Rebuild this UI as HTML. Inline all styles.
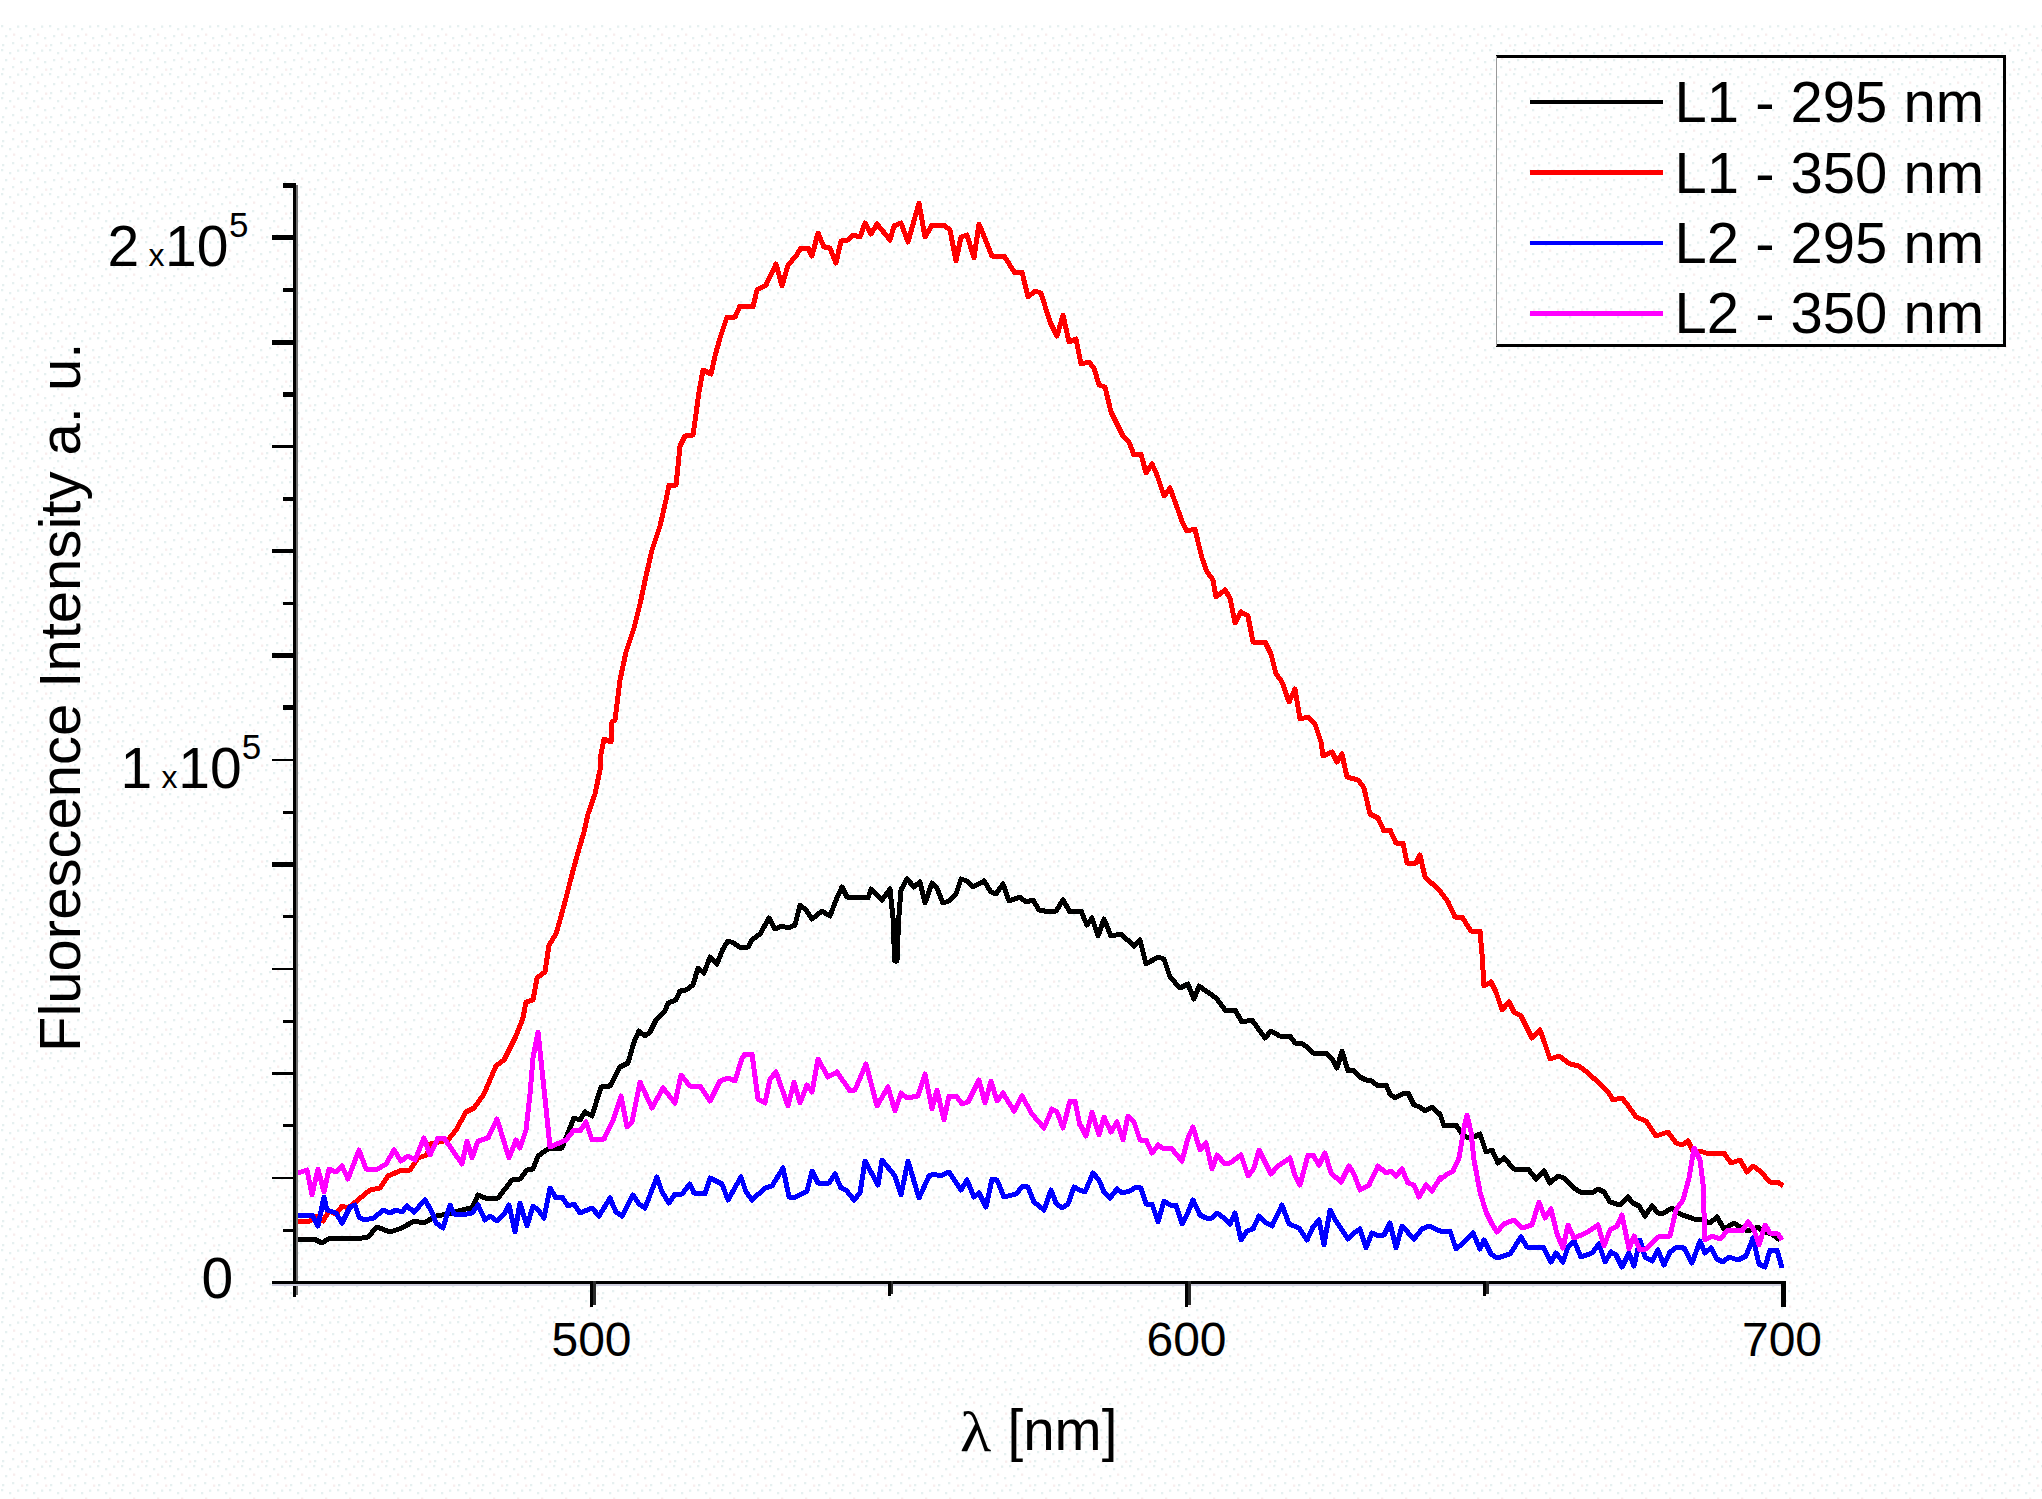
<!DOCTYPE html>
<html><head><meta charset="utf-8"><title>Fluorescence spectra</title>
<style>
html,body{margin:0;padding:0;background:#ffffff;}
body{width:2042px;height:1499px;overflow:hidden;}
svg{display:block;}
text{font-family:"Liberation Sans",sans-serif;fill:#000;}
</style></head><body>
<svg width="2042" height="1499" viewBox="0 0 2042 1499">
<defs>
<pattern id="dots" x="0" y="0" width="24" height="24" patternUnits="userSpaceOnUse">
<g fill="#e6f0f0"><rect x="1" y="1" width="2.3" height="2.3"/><rect x="9" y="4" width="2.3" height="2.3"/><rect x="17" y="1.5" width="2.3" height="2.3"/><rect x="5" y="11" width="2.3" height="2.3"/><rect x="20" y="13" width="2.3" height="2.3"/><rect x="12" y="18" width="2.3" height="2.3"/><rect x="2" y="20" width="2.3" height="2.3"/></g>
<g fill="#f8eded"><rect x="13" y="9.5" width="2.3" height="2.3"/><rect x="21" y="20.5" width="2.3" height="2.3"/></g>
</pattern>
</defs>
<rect x="0" y="0" width="2042" height="1499" fill="#ffffff"/>
<rect x="0" y="25" width="2042" height="1474" fill="url(#dots)"/>
<!-- curves -->
<g>
<path d="M295,1239 L314,1239 L322,1243 L330,1238 L356,1239 L368,1237 L377,1227 L390,1232 L402,1228 L414,1221 L424,1223 L436,1216 L448,1214 L458,1211 L466,1209 L472,1208 L478,1195 L485,1198 L498,1198 L512,1180 L520,1179 L527,1170 L533,1169 L538,1156 L548,1149 L562,1148 L570,1128 L574,1118 L580,1120 L585,1112 L592,1116 L601,1087 L610,1086 L620,1067 L628,1063 L634,1042 L639,1031 L645,1036 L650,1032 L656,1020 L665,1011 L668,1003 L676,1000 L680,991 L686,990 L693,985 L698,968 L704,973 L710,957 L717,964 L723,949 L728,941 L734,943 L739,947 L748,947 L752,940 L760,934 L769,918 L775,929 L782,926 L788,928 L795,925 L800,905 L806,910 L812,919 L822,911 L830,916 L836,900 L842,887 L847,897 L868,898 L871,889 L882,900 L890,889 L893.2,920 L894.6,961 L897,961 L898.6,920 L901,890 L907,879 L914,887 L920,882 L925,903 L932,883 L937,888 L943,903 L949,901 L956,894 L961,879 L967,881 L973,887 L984,881 L991,892 L996,894 L1003,884 L1009,901 L1020,897 L1026,902 L1033,900 L1039,910 L1050,912 L1056,911 L1063,900 L1070,912 L1081,911 L1087,925 L1092,918 L1098,936 L1104,919 L1111,936 L1121,934 L1134,946 L1140,940 L1146,964 L1158,957 L1164,959 L1170,977 L1180,988 L1188,984 L1194,999 L1199,986 L1216,998 L1226,1011 L1235,1010 L1242,1022 L1252,1020 L1265,1038 L1271,1031 L1279.8,1036 L1284,1037 L1290,1036 L1295,1043 L1301,1043 L1307,1047 L1313,1053 L1319,1054 L1326,1053 L1332,1059 L1337,1068 L1342,1051 L1348,1071 L1353,1070 L1360,1077 L1366,1080 L1372,1081 L1378,1086 L1386,1085 L1390,1094 L1395,1098 L1402,1094 L1408,1093 L1414,1105 L1420,1107 L1425,1111 L1432,1107 L1438,1113 L1440,1114 L1444,1126 L1456,1125 L1462,1134 L1468,1138 L1474,1137 L1480,1134 L1486,1152 L1492,1150 L1498,1163 L1504,1158 L1514,1169 L1528,1169 L1536,1179 L1544,1171 L1550,1183 L1558,1176 L1564,1178 L1574,1188 L1582,1193 L1594,1192 L1598,1189 L1604,1192 L1610,1202 L1620,1205 L1628,1197 L1633,1203 L1639,1206 L1645,1216 L1652,1206 L1658,1213 L1664,1213 L1672,1208 L1680,1214 L1694,1219 L1702,1220 L1710,1223 L1717,1217 L1724,1229 L1734,1223 L1740,1227 L1748,1231 L1758,1227 L1764,1232 L1772,1234 L1780,1240" fill="none" stroke="#000000" stroke-width="5" stroke-linejoin="round" shape-rendering="crispEdges"/>
<path d="M295,1221 L310,1221 L316,1216 L323,1221 L329,1211 L336,1214 L342,1206 L348,1208 L358,1200 L370,1190 L380,1188 L388,1176 L402,1170 L410,1170 L418,1158 L427,1155 L430,1144 L448,1140 L456,1130 L466,1112 L474,1108 L484,1094 L496,1066 L504,1060 L516,1036 L523,1018 L526,1002 L533,1000 L537,978 L545,972 L549,945 L556,934 L560,920 L566,898 L570,882 L577,856 L584,832 L588,814 L595,794 L600,770 L601,754 L604,739 L611,742 L612,722 L615,720 L620,680 L626,652 L634,628 L640,604 L646,576 L652,550 L660,526 L666,500 L669,485 L676,485 L678,466 L680,446 L685,436 L693,435 L696,414 L699,392 L703,370 L711,374 L715,356 L720,338 L727,317 L735,317 L740,306 L753,307 L757,290 L766,285 L776,264 L782,286 L788,265 L796,256 L801,248 L808,248 L812,256 L818,233 L824,247 L830,248 L836,263 L841,241 L848,240 L853,235 L860,237 L865,223 L871,234 L877,224 L890,240 L894,226 L901,223 L908,242 L919,203 L925,237 L932,225 L944,225 L950,230 L956,261 L961,237 L967,235 L974,258 L979,224 L992,256 L1004,256 L1015,273 L1022,272 L1028,297 L1035,291 L1041,293 L1050,322 L1057,336 L1063,315 L1069,342 L1076,339 L1081,364 L1089,362 L1094,368 L1099,385 L1105,387 L1111,412 L1117,424 L1123,436 L1129,442 L1134,455 L1141,454 L1146,473 L1152,464 L1157,475 L1164,496 L1170,488 L1178,510 L1183,524 L1187,531 L1195,529 L1199,546 L1202,558 L1207,572 L1213,580 L1216,597 L1225,590 L1230,598 L1235,623 L1241,612 L1248,616 L1253,642 L1265,642 L1271,654 L1276,674 L1282,682 L1289,702 L1295,689 L1300,719 L1308,717 L1315,724 L1321,742 L1323,756 L1332,752 L1337,762 L1342,754 L1347,777 L1358,780 L1364,788 L1370,814 L1378,818 L1384,831 L1390,830 L1396,843 L1403,843 L1407,863 L1416,863 L1420,855 L1425,877 L1439,890 L1448,902 L1455,917 L1462,917 L1471,931 L1480,931 L1482,954 L1484,986 L1491,982 L1496,992 L1502,1010 L1509,1002 L1514,1012 L1521,1016 L1532,1038 L1540,1030 L1545,1044 L1550,1059 L1559,1056 L1570,1064 L1579,1066 L1588,1073 L1600,1084 L1608,1092 L1613,1099.8 L1622,1098 L1627,1104 L1636,1117 L1646,1121 L1656,1136 L1668,1132 L1676,1143 L1682,1145 L1688,1141 L1693,1151 L1700,1151 L1706,1153 L1724,1153 L1731,1163 L1740,1160 L1747,1172 L1753,1166 L1760,1171 L1770,1182 L1778,1182 L1783,1186" fill="none" stroke="#ff0000" stroke-width="5" stroke-linejoin="round" shape-rendering="crispEdges"/>
<path d="M295,1216 L312,1215 L318,1226 L324,1197 L327,1210 L336,1213 L342,1223 L350,1207 L355,1205 L359,1217 L364,1220 L374,1218 L383,1210 L390,1213 L396,1210 L402,1212 L407,1206 L414,1212 L425,1200 L432,1212 L436,1223 L443,1228 L450,1205 L454,1214 L462,1215 L472,1213 L478,1205 L485,1220 L490,1216 L497,1221 L504,1214 L509,1205 L515,1232 L520,1203 L527,1226 L533,1206 L538,1210 L544,1218 L550,1188 L556,1198 L562,1197 L568,1206 L574,1204 L580,1213 L592,1208 L599,1216 L610,1198 L616,1212 L622,1216 L633,1195 L639,1204 L645,1208 L657,1177 L662,1192 L669,1203 L675,1194 L682,1194 L689.8,1184 L694,1193 L705,1194 L710,1178 L722,1184 L728,1200 L741,1177 L746,1192 L752,1200 L765,1188 L772,1186 L783,1168 L789,1197 L796,1197 L807,1191 L812,1171 L818,1183 L829,1183 L835,1174 L841,1188 L846,1190 L854,1200 L860,1193 L865,1161 L878,1185 L882,1160 L895,1176 L901,1195 L908,1161 L919,1198 L929,1176 L934,1174 L940,1176 L949,1172 L961,1190 L967,1180 L974,1197 L979,1193 L986,1207 L992,1179 L997,1180 L1004,1197 L1016,1194 L1023,1186 L1028,1187 L1034,1202 L1044,1210 L1051,1190 L1056,1203 L1062,1208 L1068,1204 L1074,1187 L1079.8,1190 L1085,1192 L1093,1173 L1099,1180 L1104,1192 L1110,1198 L1117,1189 L1122,1193 L1130,1191 L1136,1187 L1141,1188 L1146,1204 L1152,1204 L1158,1222 L1164,1201 L1170,1205 L1176,1205 L1182,1224 L1187,1215 L1193,1200 L1200,1215 L1206,1218 L1212,1218 L1217,1213 L1224,1218 L1230,1224 L1235,1213 L1241,1240 L1247,1231 L1253,1229 L1259,1216 L1265,1222 L1272,1226 L1282,1205 L1289,1224 L1299,1228 L1307,1240 L1313,1227 L1319,1220 L1324,1245 L1330,1210 L1336,1221 L1348,1239 L1354,1233 L1360,1229 L1366,1248 L1372,1233 L1379,1236 L1384,1235 L1390,1223 L1396,1248 L1402,1226 L1414,1239 L1422,1229 L1429,1226 L1440,1231 L1450,1231 L1456,1249 L1463,1243 L1473,1233 L1480,1249 L1484,1240 L1491,1254 L1497,1258 L1510,1254 L1521,1237 L1527,1247 L1543,1247 L1551,1262 L1556,1253 L1563,1262 L1568,1247 L1574,1241 L1581,1257 L1592,1253 L1599,1244 L1605,1262 L1611,1252 L1616,1255 L1622,1267 L1629,1253 L1634,1266 L1640,1240 L1645,1257 L1652,1261 L1658,1250 L1664,1265 L1670,1252 L1677,1247 L1684,1248 L1692,1263 L1700,1241 L1705,1253 L1711,1248 L1717,1259 L1723,1262 L1729,1257 L1738,1260 L1746,1256 L1753,1238 L1759,1264 L1765,1267 L1770,1250 L1777,1250 L1782,1268" fill="none" stroke="#0000ff" stroke-width="5" stroke-linejoin="round" shape-rendering="crispEdges"/>
<path d="M295,1174 L307,1170 L312,1195 L318,1169 L324,1192 L329,1169 L336,1172 L342,1166 L348,1179 L359,1150 L366,1169 L378,1169 L386,1164 L394,1150 L401,1161 L408,1156 L415,1160 L424,1138 L430,1155 L438,1138 L444,1138 L462,1164 L467,1141 L472,1158 L478,1141 L488,1138 L497,1119 L509,1158 L516,1140 L520,1148 L526,1130 L530,1094 L533,1058 L538,1032 L542,1070 L546,1108 L550,1147 L566,1140 L574,1130 L580,1131 L586,1122 L592,1140 L604,1139 L614,1118 L621,1096 L627,1127 L632,1122 L640,1082 L652,1108 L663,1088 L675,1103 L681,1075 L689.8,1086 L690,1086 L700,1086 L710,1101 L720,1081 L728,1078 L735,1081 L742,1058 L745,1054 L752,1054 L758,1099 L765,1103 L770,1079 L776,1072 L788,1106 L794,1082 L800,1103 L807,1085 L812,1092 L818,1059 L828,1077 L837,1072 L850,1091 L855,1090 L866,1064 L877,1106 L888,1087 L895,1111 L901,1093 L907,1098 L918,1096 L925,1074 L932,1109 L937,1090 L944,1120 L949,1096 L956,1096 L962,1104 L968,1102 L979,1080 L985,1103 L991,1081 L997,1101 L1003,1093 L1014,1111 L1022,1096 L1032,1114 L1044,1128 L1052,1109 L1057,1112 L1063,1128 L1070,1101 L1075,1101 L1079.8,1125 L1081,1126 L1086,1136 L1092,1112 L1099,1135 L1104,1117 L1111,1132 L1117,1122 L1123,1140 L1128,1116 L1134,1122 L1140,1140 L1146,1140 L1152,1153 L1158,1145 L1164,1149 L1171,1148 L1182,1161 L1188,1138 L1193,1127 L1200,1150 L1206,1143 L1212,1169 L1217,1155 L1225,1164 L1230,1163 L1241,1155 L1248,1176 L1254,1168 L1259,1150 L1271,1174 L1278,1166 L1290,1158 L1295,1176 L1300,1185 L1308,1155 L1313,1155 L1319,1165 L1325,1153 L1331,1173 L1341,1182 L1349,1166 L1354,1174 L1360,1190 L1369,1185 L1378,1166 L1386,1173 L1391,1171 L1396,1176 L1402,1169 L1408,1183 L1414,1185 L1419,1197 L1426,1185 L1432,1191 L1440,1178 L1440,1180 L1446,1175 L1453,1171 L1459,1158 L1464,1128 L1467,1115 L1471,1132 L1474,1160 L1480,1192 L1486,1212 L1492,1224 L1497,1232 L1504,1224 L1514,1220 L1522,1228 L1532,1225 L1539,1202 L1545,1218 L1551,1209 L1557,1234 L1563,1248 L1568,1225 L1574,1238 L1586,1233 L1598,1225 L1604,1246 L1610,1230 L1617,1226 L1622,1215 L1629,1249 L1634,1236 L1640,1250 L1646,1249 L1658,1237 L1670,1236 L1676,1210 L1683,1200 L1689,1178 L1694,1148 L1700,1160 L1703,1184 L1705,1240 L1712,1236 L1720,1239 L1728,1230 L1742,1231 L1748,1222 L1754,1230 L1759,1245 L1765,1225 L1770,1233 L1778,1234 L1782,1240" fill="none" stroke="#ff00ff" stroke-width="5" stroke-linejoin="round" shape-rendering="crispEdges"/>
</g>
<!-- axes -->
<g fill="#000" shape-rendering="crispEdges">
<rect x="293" y="183" width="2.6" height="1114"/>
<rect x="295.6" y="185" width="2.4" height="1110" fill="#707070"/>
<rect x="272" y="1284" width="1514" height="2" fill="#cdcddd"/>
<rect x="272" y="1281" width="1514" height="3"/>
<rect x="282.5" y="1228.9" width="11.5" height="2.7"/>
<rect x="272" y="1176.7" width="22" height="2.7"/>
<rect x="282.5" y="1124.4" width="11.5" height="2.7"/>
<rect x="272" y="1072.2" width="22" height="2.7"/>
<rect x="282.5" y="1019.9" width="11.5" height="2.7"/>
<rect x="272" y="967.6" width="22" height="2.7"/>
<rect x="282.5" y="915.4" width="11.5" height="2.7"/>
<rect x="272" y="862.2" width="22" height="4.5"/>
<rect x="282.5" y="810.8" width="11.5" height="3"/>
<rect x="272" y="758.6" width="22" height="2.7"/>
<rect x="282.5" y="705.2" width="11.5" height="5"/>
<rect x="272" y="653.0" width="22" height="5"/>
<rect x="282.5" y="601.8" width="11.5" height="3"/>
<rect x="272" y="549.0" width="22" height="4"/>
<rect x="282.5" y="496.5" width="11.5" height="4.5"/>
<rect x="272" y="444.8" width="22" height="3.5"/>
<rect x="282.5" y="392.0" width="11.5" height="4.5"/>
<rect x="272" y="339.5" width="22" height="5"/>
<rect x="282.5" y="287.5" width="11.5" height="4.5"/>
<rect x="272" y="235.0" width="22" height="5"/>
<rect x="282.5" y="182.8" width="11.5" height="5"/>
<rect x="590.0" y="1281" width="3" height="26"/><rect x="593.0" y="1281" width="2.5" height="24" fill="#2a2a2a"/>
<rect x="887.7" y="1281" width="3" height="15"/><rect x="890.7" y="1281" width="2.5" height="13" fill="#2a2a2a"/>
<rect x="1185.2" y="1281" width="3" height="26"/><rect x="1188.2" y="1281" width="2.5" height="24" fill="#2a2a2a"/>
<rect x="1483.0" y="1281" width="3" height="15"/><rect x="1486.0" y="1281" width="2.5" height="13" fill="#2a2a2a"/>
<rect x="1781" y="1281" width="5" height="26"/>
</g>
<!-- tick labels -->
<g font-size="48" text-anchor="middle">
<text x="591.5" y="1356">500</text>
<text x="1186.5" y="1356">600</text>
<text x="1782" y="1356">700</text>
</g>
<g font-size="57">
<text x="201.4" y="1298">0</text>
<text x="120.6" y="788">1</text><text x="161.5" y="788" font-size="32">x</text><text x="178.2" y="788">10</text><text x="241.7" y="759" font-size="35">5</text>
<text x="107.5" y="266">2</text><text x="148.5" y="266" font-size="32">x</text><text x="165" y="266">10</text><text x="229" y="237" font-size="35">5</text>
</g>
<!-- axis titles -->
<text font-size="57" transform="translate(80,1052) rotate(-90) scale(1.018,1)">Fluorescence Intensity a. u.</text>
<text transform="translate(960,1450.5) scale(1.15,1)" font-family="'Liberation Serif',serif" font-size="56" style="font-family:'Liberation Serif',serif">λ</text>
<text x="1007.5" y="1450" font-size="56.5">[nm]</text>
<!-- legend -->
<g>
<rect x="1496.5" y="56.5" width="508" height="289" fill="#ffffff" stroke="none"/>
<rect x="1497" y="58" width="506" height="286" fill="url(#dots)"/>
<path d="M1496,56.5 H2004.5 V345.5 H1496" fill="none" stroke="#000" stroke-width="3" shape-rendering="crispEdges"/>
<line x1="1496.5" y1="56" x2="1496.5" y2="346" stroke="#999" stroke-width="1" shape-rendering="crispEdges"/>
<g stroke-width="4.5" shape-rendering="crispEdges">
<line x1="1529.5" y1="102" x2="1663" y2="102" stroke="#000"/>
<line x1="1529.5" y1="172.5" x2="1663" y2="172.5" stroke="#ff0000"/>
<line x1="1529.5" y1="243" x2="1663" y2="243" stroke="#0000ff"/>
<line x1="1529.5" y1="313.5" x2="1663" y2="313.5" stroke="#ff00ff"/>
</g>
<g font-size="58">
<text x="1674.5" y="122">L1 - 295 nm</text>
<text x="1674.5" y="192.7">L1 - 350 nm</text>
<text x="1674.5" y="263">L2 - 295 nm</text>
<text x="1674.5" y="333.3">L2 - 350 nm</text>
</g>
</g>
</svg>
</body></html>
